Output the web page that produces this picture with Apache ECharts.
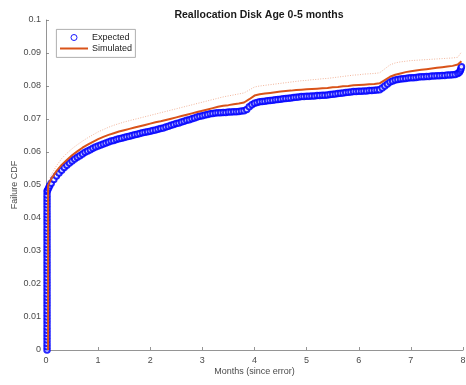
<!DOCTYPE html>
<html>
<head>
<meta charset="utf-8">
<script src="https://cdn.jsdelivr.net/npm/echarts@6/dist/echarts.min.js"></script>
<style>
  html, body { margin: 0; padding: 0; background: #fff; }
  #chart { width: 466px; height: 385px; }
</style>
</head>
<body>
<div id="chart"></div>
<script>
// Initial jump of the expected CDF (failures right at the error time)
const jumpMonth = 0.02;
const jumpCdf = [
  0.000, 0.001, 0.002, 0.003, 0.004, 0.005, 0.006, 0.007, 0.008, 0.009,
  0.010, 0.011, 0.012, 0.013, 0.014, 0.015, 0.016, 0.017, 0.018, 0.019,
  0.020, 0.021, 0.022, 0.023, 0.024, 0.025, 0.026, 0.027, 0.028, 0.029,
  0.030, 0.031, 0.032, 0.033, 0.034, 0.035, 0.036, 0.037, 0.038, 0.039,
  0.040, 0.041, 0.042, 0.043, 0.044, 0.045, 0.046, 0.047, 0.048
];

// Expected failure CDF after the jump
const expMonths = [
  0.03, 0.05, 0.07,
  0.10, 0.15, 0.20, 0.25, 0.30, 0.35, 0.40, 0.45, 0.50, 0.55,
  0.60, 0.65, 0.70, 0.75, 0.80, 0.85, 0.90, 0.95, 1.00, 1.05,
  1.10, 1.15, 1.20, 1.25, 1.30, 1.35, 1.40, 1.45, 1.50, 1.55,
  1.60, 1.65, 1.70, 1.75, 1.80, 1.85, 1.90, 1.95, 2.00, 2.05,
  2.10, 2.15, 2.20, 2.25, 2.30, 2.35, 2.40, 2.45, 2.50, 2.55,
  2.60, 2.65, 2.70, 2.75, 2.80, 2.85, 2.90, 2.95, 3.00, 3.05,
  3.10, 3.15, 3.20, 3.25, 3.30, 3.35, 3.40, 3.45, 3.50, 3.55,
  3.60, 3.65, 3.70, 3.75, 3.80, 3.85, 3.90, 3.95, 4.00, 4.05,
  4.10, 4.15, 4.20, 4.25, 4.30, 4.35, 4.40, 4.45, 4.50, 4.55,
  4.60, 4.65, 4.70, 4.75, 4.80, 4.85, 4.90, 4.95, 5.00, 5.05,
  5.10, 5.15, 5.20, 5.25, 5.30, 5.35, 5.40, 5.45, 5.50, 5.55,
  5.60, 5.65, 5.70, 5.75, 5.80, 5.85, 5.90, 5.95, 6.00, 6.05,
  6.10, 6.15, 6.20, 6.25, 6.30, 6.35, 6.40, 6.45, 6.50, 6.55,
  6.60, 6.65, 6.70, 6.75, 6.80, 6.85, 6.90, 6.95, 7.00, 7.05,
  7.10, 7.15, 7.20, 7.25, 7.30, 7.35, 7.40, 7.45, 7.50, 7.55,
  7.60, 7.65, 7.70, 7.75, 7.80, 7.85, 7.90, 7.93, 7.95, 7.96, 7.97
];
const expCdf = [
  0.0484, 0.0491, 0.0498,
  0.0505, 0.0517, 0.0527, 0.0536, 0.0545, 0.0553, 0.0560, 0.0567, 0.0573, 0.0579,
  0.0584, 0.0589, 0.0594, 0.0599, 0.0603, 0.0607, 0.0611, 0.0615, 0.0618, 0.0621,
  0.0624, 0.0627, 0.0630, 0.0633, 0.0635, 0.0638, 0.0640, 0.0642, 0.0644, 0.0646,
  0.0648, 0.0650, 0.0652, 0.0654, 0.0656, 0.0658, 0.0660, 0.0661, 0.0663, 0.0665,
  0.0667, 0.0669, 0.0671, 0.0673, 0.0676, 0.0678, 0.0681, 0.0683, 0.0686, 0.0688,
  0.0691, 0.0693, 0.0696, 0.0698, 0.0701, 0.0703, 0.0706, 0.0708, 0.0710, 0.0712,
  0.0714, 0.0716, 0.0717, 0.0718, 0.0719, 0.0719, 0.0720, 0.0720, 0.0721, 0.0721,
  0.0722, 0.0722, 0.0723, 0.0724, 0.0725, 0.0729, 0.0737, 0.0743, 0.0748, 0.0750,
  0.0752, 0.0753, 0.0754, 0.0755, 0.0756, 0.0757, 0.0758, 0.0759, 0.0760, 0.0761,
  0.0762, 0.0763, 0.0764, 0.0765, 0.0766, 0.0767, 0.0768, 0.0768, 0.0769, 0.0769,
  0.0770, 0.0770, 0.0771, 0.0771, 0.0772, 0.0772, 0.0773, 0.0774, 0.0775, 0.0776,
  0.0777, 0.0778, 0.0779, 0.0780, 0.0781, 0.0782, 0.0783, 0.0783, 0.0784, 0.0784,
  0.0785, 0.0785, 0.0786, 0.0786, 0.0787, 0.0788, 0.0789, 0.0794, 0.0800, 0.0806,
  0.0812, 0.0815, 0.0818, 0.0820, 0.0821, 0.0822, 0.0823, 0.0824, 0.0825, 0.0825,
  0.0826, 0.0827, 0.0828, 0.0828, 0.0829, 0.0829, 0.0830, 0.0830, 0.0831, 0.0831,
  0.0832, 0.0832, 0.0833, 0.0833, 0.0834, 0.0835, 0.0838, 0.0842, 0.0847, 0.0852, 0.0858
];

// Simulated failure CDF and its upper bound
const simMonths = [
  0.04, 0.04,
  0.1, 0.2, 0.3, 0.4, 0.5, 0.6, 0.7, 0.8, 0.9, 1.0,
  1.1, 1.2, 1.3, 1.4, 1.5, 1.6, 1.7, 1.8, 1.9, 2.0,
  2.1, 2.2, 2.3, 2.4, 2.5, 2.6, 2.7, 2.8, 2.9, 3.0,
  3.1, 3.2, 3.3, 3.4, 3.5, 3.6, 3.7, 3.8, 3.9, 4.0,
  4.1, 4.2, 4.3, 4.4, 4.5, 4.6, 4.7, 4.8, 4.9, 5.0,
  5.1, 5.2, 5.3, 5.4, 5.5, 5.6, 5.7, 5.8, 5.9, 6.0,
  6.1, 6.2, 6.3, 6.4, 6.5, 6.6, 6.7, 6.8, 6.9, 7.0,
  7.1, 7.2, 7.3, 7.4, 7.5, 7.6, 7.7, 7.8, 7.9, 7.97
];
const simCdf = [
  0.000, 0.0498,
  0.0518, 0.0542, 0.0561, 0.0576, 0.0590, 0.0602, 0.0613, 0.0622, 0.0631, 0.0639,
  0.0646, 0.0652, 0.0657, 0.0662, 0.0666, 0.0670, 0.0674, 0.0678, 0.0682, 0.0686,
  0.0690, 0.0693, 0.0697, 0.0701, 0.0705, 0.0709, 0.0713, 0.0717, 0.0721, 0.0725,
  0.0729, 0.0733, 0.0737, 0.0740, 0.0742, 0.0745, 0.0747, 0.0750, 0.0760, 0.0771,
  0.0775, 0.0777, 0.0779, 0.0781, 0.0783, 0.0785, 0.0786, 0.0788, 0.0789, 0.0790,
  0.0791, 0.0792, 0.0793, 0.0794, 0.0796, 0.0797, 0.0799, 0.0800, 0.0802, 0.0803,
  0.0804, 0.0805, 0.0806, 0.0808, 0.0818, 0.0828, 0.0834, 0.0838, 0.0842, 0.0845,
  0.0847, 0.0849, 0.0851, 0.0853, 0.0855, 0.0857, 0.0859, 0.0861, 0.0865, 0.0875
];
const simUpper = [
  0.000, 0.0505,
  0.0530, 0.0558, 0.0580, 0.0596, 0.0610, 0.0622, 0.0633, 0.0643, 0.0652, 0.0661,
  0.0668, 0.0675, 0.0681, 0.0686, 0.0691, 0.0695, 0.0699, 0.0703, 0.0707, 0.0711,
  0.0715, 0.0719, 0.0723, 0.0727, 0.0731, 0.0735, 0.0739, 0.0743, 0.0747, 0.0751,
  0.0755, 0.0759, 0.0763, 0.0767, 0.0770, 0.0773, 0.0776, 0.0779, 0.0788, 0.0797,
  0.0800, 0.0802, 0.0804, 0.0806, 0.0808, 0.0810, 0.0812, 0.0814, 0.0816, 0.0817,
  0.0819, 0.0820, 0.0822, 0.0823, 0.0825, 0.0827, 0.0829, 0.0831, 0.0833, 0.0834,
  0.0836, 0.0837, 0.0838, 0.0840, 0.0852, 0.0864, 0.0870, 0.0873, 0.0875, 0.0877,
  0.0878, 0.0879, 0.0880, 0.0881, 0.0882, 0.0883, 0.0884, 0.0885, 0.0887, 0.0903
];

const xTicks = [0, 1, 2, 3, 4, 5, 6, 7, 8];
const yTicks = [0, 0.01, 0.02, 0.03, 0.04, 0.05, 0.06, 0.07, 0.08, 0.09, 0.1];
const legendNames = ['Expected', 'Simulated'];

const pairs = (xs, ys) => xs.map((x, i) => [x, ys[i]]);

const FONT = '"Liberation Sans", Arial, Helvetica, sans-serif';
const TEXT = '#4a4a4a';
const AXIS = '#7a7a7a';
const BLUE = '#0000ff';
const ORANGE = '#d95319';

const chart = echarts.init(document.getElementById('chart'), null, { renderer: 'canvas' });

const expData = jumpCdf.map(v => [jumpMonth, v]).concat(pairs(expMonths, expCdf));

chart.setOption({
  animation: false,
  backgroundColor: '#fff',
  title: {
    text: 'Reallocation Disk Age 0-5 months',
    left: 254, top: 5, textAlign: 'center',
    textStyle: { fontFamily: FONT, fontSize: 10.5, fontWeight: 'bold', color: '#1a1a1a' }
  },
  grid: { left: 46, right: 3, top: 20, bottom: 35, outerBoundsMode: 'none', containLabel: false },
  xAxis: {
    type: 'value', min: xTicks[0], max: xTicks[xTicks.length - 1], interval: 1,
    name: 'Months (since error)', nameLocation: 'middle', nameGap: 17, nameMoveOverlap: false,
    nameTextStyle: { fontFamily: FONT, fontSize: 9, color: TEXT },
    axisLine: { show: true, onZero: false, lineStyle: { color: AXIS, width: 0.8 } },
    axisTick: { show: true, inside: true, length: 3, lineStyle: { color: AXIS, width: 0.8 } },
    axisLabel: { fontFamily: FONT, fontSize: 9, color: TEXT, margin: 6 },
    splitLine: { show: false }
  },
  yAxis: {
    type: 'value', min: yTicks[0], max: yTicks[yTicks.length - 1], interval: 0.01,
    name: 'Failure CDF', nameLocation: 'middle', nameGap: 27, nameMoveOverlap: false,
    nameTextStyle: { fontFamily: FONT, fontSize: 9, color: TEXT },
    axisLine: { show: true, onZero: false, lineStyle: { color: AXIS, width: 0.8 } },
    axisTick: { show: true, inside: true, length: 3, lineStyle: { color: AXIS, width: 0.8 } },
    axisLabel: {
      fontFamily: FONT, fontSize: 9, color: TEXT, margin: 5,
      formatter: v => String(parseFloat(v.toFixed(2)))
    },
    splitLine: { show: false }
  },
  // Boxed legend in the upper left corner
  graphic: [
    { type: 'rect', left: 56, top: 29, shape: { width: 79, height: 28 },
      style: { fill: '#fff', stroke: '#9a9a9a', lineWidth: 0.8 }, z: 10 },
    { type: 'circle', shape: { cx: 74, cy: 37.5, r: 3 },
      style: { fill: 'none', stroke: BLUE, lineWidth: 0.9 }, z: 11 },
    { type: 'line', shape: { x1: 60, y1: 48.5, x2: 88, y2: 48.5 },
      style: { stroke: ORANGE, lineWidth: 2 }, z: 11 },
    { type: 'text', x: 92, y: 37.5, z: 11,
      style: { text: legendNames[0], font: '9px ' + FONT, fill: '#222', verticalAlign: 'middle' } },
    { type: 'text', x: 92, y: 48.5, z: 11,
      style: { text: legendNames[1], font: '9px ' + FONT, fill: '#222', verticalAlign: 'middle' } }
  ],
  series: [
    {
      name: legendNames[0], type: 'scatter',
      data: expData,
      symbol: 'emptyCircle', symbolSize: 5.5,
      itemStyle: { color: BLUE, borderColor: BLUE, borderWidth: 0.8, opacity: 0.85 },
      z: 2
    },
    {
      name: 'Upper', type: 'line',
      data: pairs(simMonths, simUpper),
      symbol: 'none',
      lineStyle: { color: '#e8845a', width: 1, type: [1, 1.5], opacity: 0.6 },
      z: 3
    },
    {
      name: legendNames[1], type: 'line',
      data: pairs(simMonths, simCdf),
      symbol: 'none',
      lineStyle: { color: ORANGE, width: 2 },
      z: 4
    }
  ]
});
</script>
</body>
</html>
